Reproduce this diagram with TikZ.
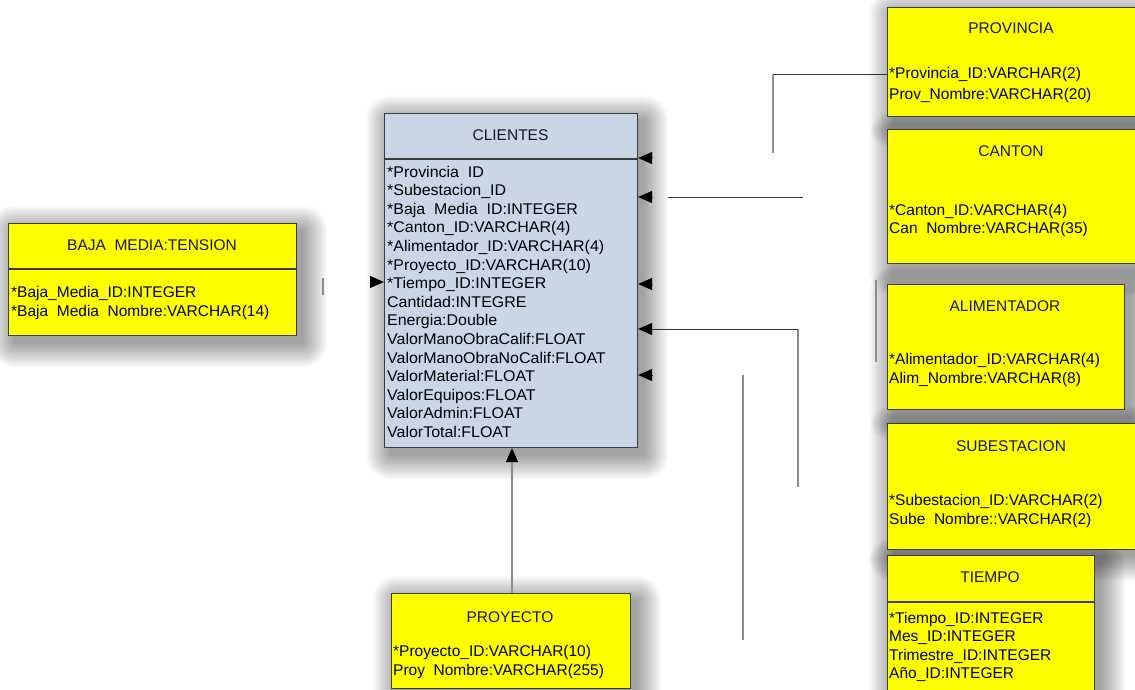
\documentclass[tikz,border=0pt]{standalone}
\usepackage{fontspec}
\setmainfont{Liberation Sans}
\newfontfamily\widesans[FakeStretch=1.03]{Liberation Sans}
\usetikzlibrary{arrows.meta}

\definecolor{entyellow}{HTML}{FFFF00}
\definecolor{factblue}{HTML}{C9D6E6}
\definecolor{boxedge}{HTML}{3C3C3C}

\pgfdeclarelayer{paper}
\pgfdeclarelayer{shade}
\pgfsetlayers{paper,shade,main}

% blank of the width of an underscore
\newcommand{\uscgap}{\phantom{\_}}

% soft shadow behind a box, built from stacked translucent rectangles
\newcommand{\softshadow}[1]{%
  \begin{pgfonlayer}{shade}
    \foreach \k in {0,1.5,...,24}
      \fill[black, opacity=0.024, rounded corners=\k pt]
        ([xshift=6pt-\k pt, yshift=-7pt+\k pt]#1.north west)
        rectangle ([xshift=6pt+\k pt, yshift=-7pt-\k pt]#1.south east);
  \end{pgfonlayer}}

\tikzset{
  erbox/.style={draw=boxedge, line width=1.1pt, anchor=north west, inner sep=0pt},
  dimbox/.style={erbox, fill=entyellow},
  factbox/.style={erbox, fill=factblue},
  ttl/.style={anchor=base, inner sep=0pt, font=\fontsize{15.5}{18}\selectfont, text=black!90},
  fld/.style={anchor=base west, inner sep=0pt, font=\fontsize{15.5}{18}\selectfont, text=black},
  widefld/.style={fld, font=\widesans\fontsize{15.5}{18}\selectfont},
  divider/.style={draw=boxedge, line width=1.1pt},
  hlink/.style={draw=black!80, line width=1pt},
  vlink/.style={draw=black!45, line width=1.2pt},
  tip/.style={-{Triangle[length=14pt,width=12pt,color=black,fill=black]}},
}

\begin{document}
\begin{tikzpicture}[x=1pt,y=-1pt]
\clip (0,0) rectangle (1135,690);
\begin{pgfonlayer}{paper}
  \fill[white] (0,0) rectangle (1135,690);
\end{pgfonlayer}

% ---------- fact table ----------
\node[factbox, minimum width=253pt, minimum height=334pt] (clientes) at (384,113) {};
\softshadow{clientes}
\draw[divider] ([yshift=-46pt]clientes.north west) -- ([yshift=-46pt]clientes.north east);
\node[ttl] (clientesT) at (510.5,140.5) {CLIENTES};
\foreach \t [count=\i] in {
  *Provincia\uscgap ID,
  *Subestacion\_ID,
  *Baja\uscgap Media\uscgap ID:INTEGER,
  *Canton\_ID:VARCHAR(4),
  *Alimentador\_ID:VARCHAR(4),
  *Proyecto\_ID:VARCHAR(10),
  *Tiempo\_ID:INTEGER,
  Cantidad:INTEGRE,
  Energia:Double,
  ValorManoObraCalif:FLOAT,
  ValorManoObraNoCalif:FLOAT,
  ValorMaterial:FLOAT,
  ValorEquipos:FLOAT,
  ValorAdmin:FLOAT,
  ValorTotal:FLOAT}
  \node[widefld] (cf\i) at (387,{158.4+18.6*\i}) {\t};

% ---------- dimension tables ----------
\node[dimbox, minimum width=288pt, minimum height=112pt] (baja) at (8,223) {};
\softshadow{baja}
\draw[divider] ([yshift=-46pt]baja.north west) -- ([yshift=-46pt]baja.north east);
\node[ttl] (bajaT) at (152,250) {BAJA\uscgap MEDIA:TENSION};
\node[fld] (baja1) at (11,297) {*Baja\_Media\_ID:INTEGER};
\node[fld] (baja2) at (11,316) {*Baja\uscgap Media\uscgap Nombre:VARCHAR(14)};

\node[dimbox, minimum width=253pt, minimum height=109pt] (provincia) at (887,7) {};
\softshadow{provincia}
\node[ttl] (provinciaT) at (1011,34) {PROVINCIA};
\node[fld] (prov1) at (889,79) {*Provincia\_ID:VARCHAR(2)};
\node[fld] (prov2) at (889,100) {Prov\_Nombre:VARCHAR(20)};

\node[dimbox, minimum width=253pt, minimum height=134pt] (canton) at (887,129) {};
\softshadow{canton}
\node[ttl] (cantonT) at (1011,157) {CANTON};
\node[fld] (can1) at (889,215) {*Canton\_ID:VARCHAR(4)};
\node[fld] (can2) at (889,233) {Can\uscgap Nombre:VARCHAR(35)};

\node[dimbox, minimum width=237pt, minimum height=125pt] (alim) at (887,284) {};
\softshadow{alim}
\node[ttl] (alimT) at (1005,311) {ALIMENTADOR};
\node[fld] (alim1) at (889,364) {*Alimentador\_ID:VARCHAR(4)};
\node[fld] (alim2) at (889,383) {Alim\_Nombre:VARCHAR(8)};

\node[dimbox, minimum width=253pt, minimum height=126pt] (subest) at (887,423) {};
\softshadow{subest}
\node[ttl] (subestT) at (1011,451) {SUBESTACION};
\node[fld] (sub1) at (889,505) {*Subestacion\_ID:VARCHAR(2)};
\node[fld] (sub2) at (889,524) {Sube\uscgap Nombre::VARCHAR(2)};

\node[dimbox, minimum width=207pt, minimum height=140pt] (tiempo) at (887,555) {};
\softshadow{tiempo}
\draw[divider] ([yshift=-47pt]tiempo.north west) -- ([yshift=-47pt]tiempo.north east);
\node[ttl] (tiempoT) at (990,582) {TIEMPO};
\node[fld] (tie1) at (889,623) {*Tiempo\_ID:INTEGER};
\node[fld] (tie2) at (889,641.5) {Mes\_ID:INTEGER};
\node[fld] (tie3) at (889,660) {Trimestre\_ID:INTEGER};
\node[fld] (tie4) at (889,678.5) {Año\_ID:INTEGER};

\node[dimbox, minimum width=239pt, minimum height=95pt] (proyecto) at (391,593) {};
\softshadow{proyecto}
\node[ttl] (proyectoT) at (510,622) {PROYECTO};
\node[fld] (proy1) at (393,656) {*Proyecto\_ID:VARCHAR(10)};
\node[fld] (proy2) at (393,675) {Proy\uscgap Nombre:VARCHAR(255)};

% ---------- connector ends ----------
\coordinate (pv0) at (773,153);
\coordinate (pv1) at (773,75);
\coordinate (sb0) at (668,197);
\coordinate (sb1) at (803,197);
\coordinate (al0) at (876,280);
\coordinate (al1) at (876,362);
\coordinate (ct0) at (798,487);
\coordinate (ct1) at (798,329);
\coordinate (tm0) at (743,375);
\coordinate (tm1) at (743,640);
\coordinate (bm0) at (323,278);
\coordinate (bm1) at (323,295);
\coordinate (a1) at (652,158);
\coordinate (a2) at (652,197);
\coordinate (a3) at (652,284);
\coordinate (a4) at (652,375);
\coordinate (aL) at (370,282);
\coordinate (pj) at (512,593);

% ---------- connectors ----------
\draw[vlink] (pv0) -- (pv1);
\draw[hlink] (pv1) -- (pv1 -| provincia.west);
\draw[hlink] (sb0) -- (sb1);
\draw[vlink] (al0) -- (al1);
\draw[vlink] (ct0) -- (ct1);
\draw[hlink, tip] (ct1) -- (ct1 -| clientes.east);
\draw[vlink] (tm0) -- (tm1);
\draw[vlink] (bm0) -- (bm1);
\draw[hlink, tip] (a1) -- (a1 -| clientes.east);
\draw[hlink, tip] (a2) -- (a2 -| clientes.east);
\draw[hlink, tip] (a3) -- (a3 -| clientes.east);
\draw[hlink, tip] (a4) -- (a4 -| clientes.east);
\draw[hlink, tip] (aL) -- (aL -| clientes.west);
\draw[vlink, tip] (pj) -- (pj |- clientes.south);
\end{tikzpicture}
\end{document}
